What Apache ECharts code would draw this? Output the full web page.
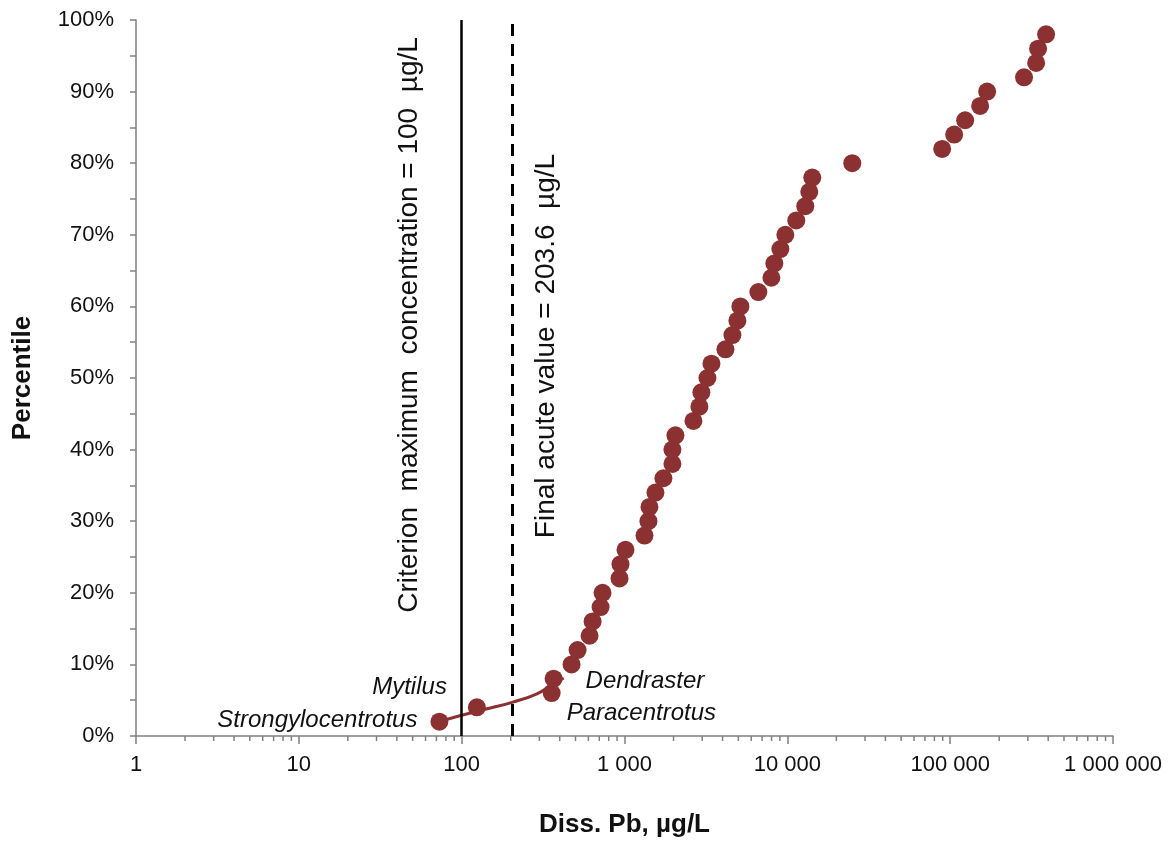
<!DOCTYPE html>
<html style="height: 100%">
<head>
<meta charset="utf-8">
<script src="https://cdn.jsdelivr.net/npm/echarts@6/dist/echarts.min.js"></script>
</head>
<body style="height: 100%; margin: 0; background: #fff">
<div id="container" style="width: 1171px; height: 843px"></div>
<script type="text/javascript">
// species sensitivity distribution, dissolved Pb (ug/L) vs percentile
var conc = [73, 124, 357, 367, 473, 515, 610, 637, 713, 733,
            932, 945, 1014, 1327, 1403, 1423, 1549, 1734, 1969, 1969,
            2055, 2650, 2884, 2966, 3230, 3420, 4168, 4600, 4935, 5150,
            6637, 7980, 8320, 9060, 9720, 11350, 12890, 13640, 14230, 25050,
            89300, 105800, 123600, 152800, 168700, 284300, 337300, 346700, 388200];
var pct = [2, 4, 6, 8, 10, 12, 14, 16, 18, 20,
           22, 24, 26, 28, 30, 32, 34, 36, 38, 40,
           42, 44, 46, 48, 50, 52, 54, 56, 58, 60,
           62, 64, 66, 68, 70, 72, 74, 76, 78, 80,
           82, 84, 86, 88, 90, 92, 94, 96, 98];
// fitted curve through the lower tail
var fitConc = [73, 100, 150, 204, 290, 362, 423];
var fitPct = [2.0, 2.9, 3.9, 4.7, 5.9, 7.2, 8.1];
// labelled species (index into conc/pct)
var species = ['Strongylocentrotus', 'Mytilus', 'Paracentrotus', 'Dendraster'];
var speciesIdx = [0, 1, 2, 3];
var cmc = 100;      // criterion maximum concentration
var fav = 203.6;    // final acute value
var xTicks = [1, 10, 100, 1000, 10000, 100000, 1000000];

var dotColor = '#8c3131';
var font = 'Liberation Sans, Arial, sans-serif';

var labelPos = [
  {position: 'left', distance: 13, offset: [0, -1]},
  {position: 'left', distance: 21, offset: [0, -20]},
  {position: 'right', distance: 6, offset: [0, 20]},
  {position: 'right', distance: 23, offset: [0, 3]}
];

var points = [];
for (var i = 0; i < conc.length; i++) {
  var item = {value: [conc[i], pct[i]]};
  var k = speciesIdx.indexOf(i);
  if (k >= 0) {
    item.label = {
      show: true,
      formatter: species[k],
      position: labelPos[k].position,
      distance: labelPos[k].distance,
      offset: labelPos[k].offset,
      fontStyle: 'italic',
      fontSize: 24,
      fontFamily: font,
      color: '#111'
    };
  }
  points.push(item);
}

var fitData = [];
for (var j = 0; j < fitConc.length; j++) fitData.push([fitConc[j], fitPct[j]]);

// minor ticks at 2..9 of each decade
var minorTicks = [];
for (var d = 0; d < xTicks.length - 1; d++) {
  for (var m = 2; m <= 9; m++) minorTicks.push([m * xTicks[d], 0]);
}

function fmtThousands(v) {
  return String(Math.round(v)).replace(/\B(?=(\d{3})+(?!\d))/g, ' ');
}

var myChart = echarts.init(document.getElementById('container'), null, {renderer: 'canvas'});

var option = {
  animation: false,
  grid: {left: 136, right: 58, top: 20, bottom: 103},
  xAxis: {
    type: 'log',
    logBase: 10,
    min: 1,
    max: 1000000,
    name: 'Diss. Pb, µg/L',
    nameLocation: 'middle',
    nameGap: 76,
    nameTextStyle: {fontFamily: font, fontWeight: 'bold', fontSize: 26, color: '#111'},
    axisLine: {lineStyle: {color: '#808080', width: 1.5}},
    axisTick: {show: true, length: 8, lineStyle: {color: '#808080', width: 1.5}},
    axisLabel: {
      margin: 18, fontFamily: font, fontSize: 22, color: '#111',
      formatter: function (v) { return fmtThousands(v); }
    },
    splitLine: {show: false}
  },
  yAxis: {
    type: 'value',
    min: 0,
    max: 100,
    interval: 10,
    name: 'Percentile',
    nameLocation: 'middle',
    nameRotate: 90,
    nameGap: 100,
    nameTextStyle: {fontFamily: font, fontWeight: 'bold', fontSize: 26, color: '#111'},
    axisLine: {show: true, lineStyle: {color: '#808080', width: 1.5}},
    axisTick: {show: true, length: 6, lineStyle: {color: '#808080', width: 1.5}},
    minorTick: {show: true, splitNumber: 2, length: 6, lineStyle: {color: '#808080', width: 1.5}},
    axisLabel: {
      margin: 22, fontFamily: font, fontSize: 22, color: '#111',
      formatter: function (v) { return v + '%'; }
    },
    splitLine: {show: false}
  },
  graphic: [
    {
      type: 'text', x: 409, y: 325, rotation: Math.PI / 2,
      style: {
        text: 'Criterion  maximum  concentration = 100  µg/L',
        font: '28px ' + font, fill: '#111', align: 'center', verticalAlign: 'middle'
      }
    },
    {
      type: 'text', x: 546, y: 346, rotation: Math.PI / 2,
      style: {
        text: 'Final acute value = 203.6  µg/L',
        font: '28px ' + font, fill: '#111', align: 'center', verticalAlign: 'middle'
      }
    }
  ],
  series: [
    {
      name: 'minor ticks',
      type: 'custom',
      silent: true,
      clip: false,
      data: minorTicks,
      renderItem: function (params, api) {
        var p = api.coord([api.value(0), 0]);
        return {
          type: 'line',
          shape: {x1: p[0], y1: p[1], x2: p[0], y2: p[1] + 5},
          style: {stroke: '#808080', lineWidth: 1.5}
        };
      }
    },
    {
      name: 'fit',
      type: 'line',
      smooth: true,
      showSymbol: false,
      silent: true,
      data: fitData,
      lineStyle: {color: dotColor, width: 3},
      z: 3
    },
    {
      name: 'species',
      type: 'scatter',
      symbolSize: 18,
      data: points,
      itemStyle: {color: dotColor, opacity: 1},
      z: 4,
      markLine: {
        silent: true,
        symbol: 'none',
        label: {show: false},
        data: [
          {xAxis: cmc, lineStyle: {color: '#000', type: 'solid', width: 2.5}},
          {xAxis: fav, lineStyle: {color: '#000', type: [12, 8], width: 3}}
        ]
      }
    }
  ]
};

myChart.setOption(option);
</script>
</body>
</html>
